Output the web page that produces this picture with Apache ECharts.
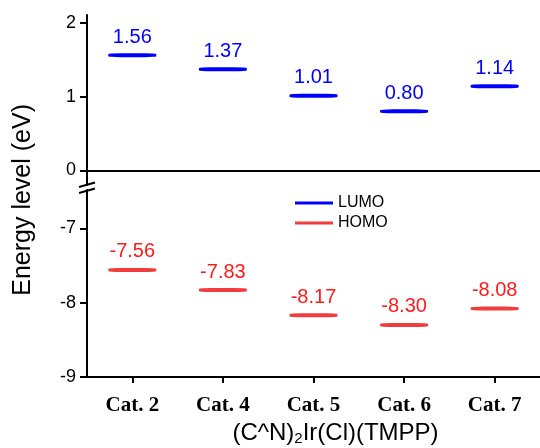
<!DOCTYPE html>
<html>
<head>
<meta charset="utf-8">
<script src="https://cdn.jsdelivr.net/npm/echarts@6/dist/echarts.min.js"></script>
<style>
html, body { margin: 0; padding: 0; background: #fff; }
#chart { width: 540px; height: 448px; }
</style>
</head>
<body>
<div id="chart"></div>
<script>
// 数据
var categories = ['Cat. 2', 'Cat. 4', 'Cat. 5', 'Cat. 6', 'Cat. 7'];
var lumoValues = [1.56, 1.37, 1.01, 0.80, 1.14];
var homoValues = [-7.56, -7.83, -8.17, -8.30, -8.08];
var upperTicks = [0, 1, 2];
var lowerTicks = [-9, -8, -7];

var myChart = echarts.init(document.getElementById('chart'));

var sansFont = '"Liberation Sans", Arial, sans-serif';
var blue = '#0000ff';
var redLine = '#f03c3c';
var redText = '#ff1a1a';

function valueLabel(color) {
	return {
		show: true,
		position: 'top',
		distance: 6,
		color: color,
		fontSize: 20,
		fontFamily: sansFont,
		formatter: function (p) { return p.value[1].toFixed(2); }
	};
}

function toPairs(values) {
	return values.map(function (v, i) { return [categories[i], v]; });
}

var axisLineStyle = { color: '#000', width: 2 };

var option = {
	animation: false,
	legend: {
		orient: 'vertical',
		left: 290,
		top: 190,
		icon: 'rect',
		itemWidth: 38,
		itemHeight: 3,
		itemGap: 4,
		textStyle: { fontSize: 16, fontFamily: sansFont, color: '#000' },
		data: ['LUMO', 'HOMO']
	},
	grid: [
		{ left: 87, right: -4, top: 15, height: 170 },
		{ left: 87, right: -4, top: 190, height: 187 }
	],
	xAxis: [{
		// 上半部分只画顶边框
		gridIndex: 0,
		type: 'category',
		data: categories,
		position: 'top',
		axisLine: { show: true, lineStyle: axisLineStyle },
		axisTick: { show: false },
		axisLabel: { show: false },
		splitLine: { show: false }
	}, {
		gridIndex: 1,
		type: 'category',
		data: categories,
		position: 'bottom',
		axisLine: { show: true, lineStyle: axisLineStyle },
		axisTick: { show: true, alignWithLabel: true, length: 6, lineStyle: axisLineStyle },
		axisLabel: {
			margin: 18,
			color: '#000',
			fontSize: 21,
			fontWeight: 'bold',
			fontFamily: '"Liberation Serif", "Times New Roman", serif'
		},
		name: '(C^N){sub|2}Ir(Cl)(TMPP)',
		nameLocation: 'middle',
		nameGap: 43,
		nameTextStyle: {
			color: '#000',
			fontSize: 24,
			fontFamily: sansFont,
			padding: [0, 0, 0, 44],
			rich: {
				sub: { fontSize: 15, fontFamily: sansFont, color: '#000', verticalAlign: 'bottom', padding: [11, 0, 0, 0] }
			}
		}
	}],
	yAxis: [{
		gridIndex: 0,
		type: 'value',
		min: -0.196,
		max: 2.103,
		axisLine: { show: true, lineStyle: axisLineStyle },
		axisTick: { show: true, length: 7, lineStyle: axisLineStyle, customValues: upperTicks },
		axisLabel: { color: '#000', fontSize: 18, fontFamily: sansFont, margin: 11, customValues: upperTicks },
		splitLine: { show: false }
	}, {
		gridIndex: 1,
		type: 'value',
		min: -9,
		max: -6.484,
		axisLine: { show: true, lineStyle: axisLineStyle },
		axisTick: { show: true, length: 7, lineStyle: axisLineStyle, customValues: lowerTicks },
		axisLabel: { color: '#000', fontSize: 18, fontFamily: sansFont, margin: 11, customValues: lowerTicks },
		splitLine: { show: false }
	}],
	series: [{
		name: 'LUMO',
		type: 'scatter',
		xAxisIndex: 0,
		yAxisIndex: 0,
		symbol: 'roundRect',
		symbolSize: [48, 4],
		itemStyle: { color: blue, opacity: 1 },
		label: valueLabel(blue),
		data: toPairs(lumoValues)
	}, {
		name: 'HOMO',
		type: 'scatter',
		xAxisIndex: 1,
		yAxisIndex: 1,
		symbol: 'roundRect',
		symbolSize: [48, 4],
		itemStyle: { color: redLine, opacity: 1 },
		label: valueLabel(redText),
		data: toPairs(homoValues)
	}],
	graphic: [{
		// 纵轴标题
		type: 'text',
		left: 11,
		top: 104,
		rotation: Math.PI / 2,
		style: { text: 'Energy level (eV)', fontSize: 25, fontFamily: sansFont, fill: '#000' }
	}, {
		// 断轴标记
		type: 'line',
		shape: { x1: 79, y1: 187, x2: 95, y2: 182.5 },
		style: { stroke: '#000', lineWidth: 2 }
	}, {
		type: 'line',
		shape: { x1: 79, y1: 193, x2: 95, y2: 188.5 },
		style: { stroke: '#000', lineWidth: 2 }
	}]
};
myChart.setOption(option);
</script>
</body>
</html>
